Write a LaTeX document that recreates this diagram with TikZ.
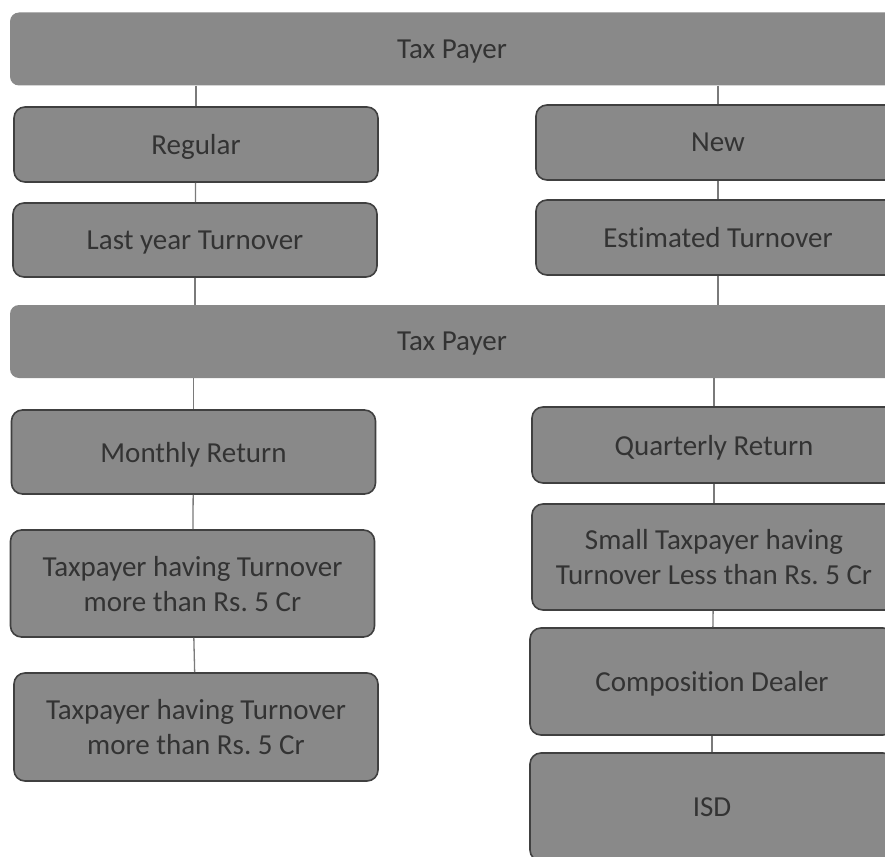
\documentclass[tikz,border=0pt]{standalone}
\usepackage{fontspec}
\setmainfont[Ligatures=NoCommon]{Carlito}
\definecolor{boxgray}{HTML}{898989}
\definecolor{edgegray}{HTML}{404040}
\definecolor{textgray}{HTML}{333333}
\definecolor{linkgray}{HTML}{7A7A7A}
\frenchspacing

\begin{document}
\begin{tikzpicture}[x=1pt,y=-1pt,
  every node/.style={font=\fontsize{29}{35}\selectfont, text=textgray, align=center, text depth=0pt},
  bar/.style={fill=boxgray, rounded corners=9pt, minimum width=884pt, minimum height=73pt},
  level/.style={fill=boxgray, draw=edgegray, line width=1.6pt, rounded corners=11pt,
    minimum width=364pt, minimum height=#1},
  level/.default=75pt,
  link/.style={draw=linkgray, line width=1.3pt}]
  \clip (0,0) rectangle (885,856);
  \fill[white] (0,0) rectangle (885,856);
  % first tier
  \node[bar] (payer) at (452,49) {Tax Payer};
  \node[level] (regular) at (196,144.5) {Regular};
  \node[level=74pt] (lastyear) at (195,240) {Last year Turnover};
  \node[level] (new) at (718,142.5) {New};
  \node[level] (estimated) at (718,237.5) {Estimated Turnover};
  % second tier
  \node[bar] (payer2) at (452,341.5) {Tax Payer};
  \node[level=84pt] (monthly) at (193.5,452) {Monthly Return};
  \node[level=107pt] (above1) at (192.5,583.5) {Taxpayer having Turnover\\more than Rs. 5 Cr};
  \node[level=108pt] (above2) at (196,727) {Taxpayer having Turnover\\more than Rs. 5 Cr};
  \node[level=76pt] (quarterly) at (714,445) {Quarterly Return};
  \node[level=106pt] (small) at (714,557) {Small Taxpayer having\\Turnover Less than Rs. 5 Cr};
  \node[level=107pt] (composition) at (712,681.5) {Composition Dealer};
  \node[level=108pt] (isd) at (712,807) {ISD};
  % connectors
  \draw[link] (payer.south -| regular.north) -- (regular.north);
  \draw[link] (regular) -- (lastyear);
  \draw[link] (payer.south -| new.north) -- (new.north);
  \draw[link] (new) -- (estimated);
  \draw[link] (lastyear.south) -- (lastyear.south |- payer2.north);
  \draw[link] (estimated.south) -- (estimated.south |- payer2.north);
  \draw[link] (payer2.south -| monthly.north) -- (monthly.north);
  \draw[link] (monthly) -- (above1);
  \draw[link] (above1) -- (above2);
  \draw[link] (payer2.south -| quarterly.north) -- (quarterly.north);
  \draw[link] (quarterly) -- (small);
  \draw[link] (small) -- (composition);
  \draw[link] (composition) -- (isd);
\end{tikzpicture}
\end{document}
